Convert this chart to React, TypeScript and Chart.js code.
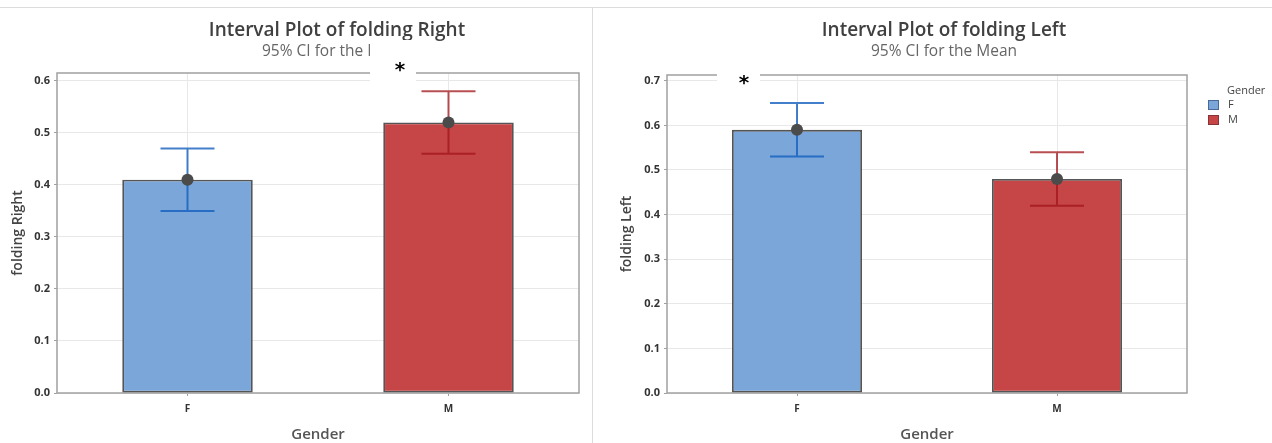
import React, { useEffect, useRef } from "react";
import { Chart, registerables } from "chart.js";

Chart.register(...registerables);

// ---- data ----
const categories = ["F", "M"];
const rightMeans = [0.41, 0.52];
const rightLower = [0.35, 0.46];
const rightUpper = [0.47, 0.58];
const leftMeans = [0.59, 0.48];
const leftLower = [0.53, 0.42];
const leftUpper = [0.65, 0.54];
const barColors = ["#7BA6D9", "#C64546"];
const ciColors = ["rgba(20,95,190,0.8)", "rgba(160,20,25,0.75)"];
const legendTitle = "Gender";

const FONT = '"Open Sans", "Noto Sans", sans-serif';

type Cfg = {
  means: number[];
  lower: number[];
  upper: number[];
  yMax: number;
  yTitle: string;
  yTitlePad: number;
  yWidth: number;
  padding: { left: number; top: number; right: number; bottom: number };
  title: string;
  titleX: number;
  subX: number;
  box: [number, number, number, number];
  star: [number, number];
  legend: null | { x: number; y: number };
};

function buildConfig(c: Cfg): any {
  const errorBars = {
    id: "errorBars",
    afterDatasetDraw(chart: any, args: any) {
      if (args.index !== 0) return;
      const meta = chart.getDatasetMeta(0);
      const ys = chart.scales.y;
      const ctx = chart.ctx;
      ctx.save();
      meta.data.forEach((bar: any, i: number) => {
        const x = bar.x;
        const yl = ys.getPixelForValue(c.lower[i]);
        const yu = ys.getPixelForValue(c.upper[i]);
        ctx.strokeStyle = ciColors[i];
        ctx.lineWidth = 2;
        ctx.beginPath();
        ctx.moveTo(x, yu);
        ctx.lineTo(x, yl);
        ctx.moveTo(x - 27, yu);
        ctx.lineTo(x + 27, yu);
        ctx.moveTo(x - 27, yl);
        ctx.lineTo(x + 27, yl);
        ctx.stroke();
      });
      ctx.restore();
    },
  };
  const frame = {
    id: "frame",
    beforeDatasetsDraw(chart: any) {
      const { left, top, right, bottom } = chart.chartArea;
      const ctx = chart.ctx;
      ctx.save();
      ctx.strokeStyle = "#a0a0a0";
      ctx.lineWidth = 1.5;
      ctx.strokeRect(left, top, right - left, bottom - top);
      ctx.restore();
    },
  };
  const overlay = {
    id: "overlay",
    afterDraw(chart: any) {
      const ctx = chart.ctx;
      ctx.save();
      ctx.textAlign = "center";
      ctx.textBaseline = "middle";
      ctx.fillStyle = "#404040";
      ctx.font = `600 19px ${FONT}`;
      ctx.fillText(c.title, c.titleX, 31);
      ctx.fillStyle = "#666666";
      ctx.font = `15.5px ${FONT}`;
      ctx.fillText("95% CI for the Mean", c.subX, 52);
      ctx.fillStyle = "#ffffff";
      ctx.fillRect(c.box[0], c.box[1], c.box[2], c.box[3]);
      ctx.fillStyle = "#000000";
      ctx.font = `bold 20px "DejaVu Sans", sans-serif`;
      ctx.fillText("*", c.star[0], c.star[1]);
      if (c.legend) {
        const { x, y } = c.legend;
        ctx.textAlign = "left";
        ctx.fillStyle = "#444";
        ctx.font = `11px ${FONT}`;
        ctx.fillText(legendTitle, x + 19, y);
        categories.forEach((cat, i) => {
          const by = y + 9 + i * 15;
          ctx.fillStyle = barColors[i];
          ctx.fillRect(x, by, 11, 10);
          ctx.strokeStyle = i === 0 ? "#4a6a95" : "#8a3333";
          ctx.lineWidth = 1;
          ctx.strokeRect(x + 0.5, by + 0.5, 10, 9);
          ctx.fillStyle = "#444";
          ctx.fillText(cat, x + 20, by + 5);
        });
      }
      ctx.restore();
    },
  };

  return {
    type: "bar",
    data: {
      labels: categories,
      datasets: [
        {
          type: "bar",
          data: c.means,
          backgroundColor: barColors,
          borderColor: "#555555",
          borderWidth: 1.8,
          borderSkipped: false,
          categoryPercentage: 1,
          barPercentage: 0.5,
          order: 2,
        },
        {
          type: "line",
          data: c.means,
          showLine: false,
          pointRadius: 6,
          pointHoverRadius: 6,
          pointBackgroundColor: "#4b4b4b",
          pointBorderWidth: 0,
          order: 1,
        },
      ],
    },
    options: {
      responsive: false,
      animation: false,
      events: [],
      layout: { padding: c.padding },
      plugins: {
        legend: { display: false },
        tooltip: { enabled: false },
        title: { display: false },
      },
      scales: {
        x: {
          type: "category",
          offset: true,
          afterFit(s: any) {
            s.height = 50;
          },
          grid: {
            offset: false,
            color: "#e8e8e8",
            tickColor: "#a0a0a0",
            tickLength: 3,
          },
          border: { display: false },
          ticks: {
            color: "#333",
            font: { family: FONT, size: 10, weight: "bold" },
            padding: 7,
          },
          title: {
            display: true,
            text: "Gender",
            color: "#555",
            font: { family: FONT, size: 15, weight: "600" },
            padding: { top: 0, bottom: -1 },
          },
        },
        y: {
          type: "linear",
          min: 0,
          max: c.yMax,
          afterFit(s: any) {
            s.width = c.yWidth;
          },
          grid: {
            color: "#e8e8e8",
            tickColor: "#a0a0a0",
            tickLength: 3,
          },
          border: { display: false },
          ticks: {
            stepSize: 0.1,
            includeBounds: false,
            color: "#333",
            font: { family: FONT, size: 11, weight: "bold" },
            padding: 4,
            callback: (v: any) => Number(v).toFixed(1),
          },
          title: {
            display: true,
            text: c.yTitle,
            color: "#444",
            font: { family: FONT, size: 14, weight: "600" },
            padding: { top: c.yTitlePad, bottom: 0 },
          },
        },
      },
    },
    plugins: [frame, errorBars, overlay],
  };
}

export default function App() {
  const leftRef = useRef<HTMLCanvasElement>(null);
  const rightRef = useRef<HTMLCanvasElement>(null);

  useEffect(() => {
    document.body.style.margin = "0";
    const c1 = new Chart(
      leftRef.current as HTMLCanvasElement,
      buildConfig({
        means: rightMeans,
        lower: rightLower,
        upper: rightUpper,
        yMax: 0.615,
        yTitle: "folding Right",
        yTitlePad: 10,
        yWidth: 57,
        padding: { left: 0, top: 73, right: 13, bottom: 0 },
        title: "Interval Plot of folding Right",
        titleX: 337,
        subX: 335,
        box: [370, 40, 46, 43],
        star: [400, 71],
        legend: null,
      })
    );
    const c2 = new Chart(
      rightRef.current as HTMLCanvasElement,
      buildConfig({
        means: leftMeans,
        lower: leftLower,
        upper: leftUpper,
        yMax: 0.713,
        yTitle: "folding Left",
        yTitlePad: 26,
        yWidth: 74,
        padding: { left: 0, top: 75, right: 85, bottom: 0 },
        title: "Interval Plot of folding Left",
        titleX: 351,
        subX: 351,
        box: [124, 63, 43, 25],
        star: [151, 84],
        legend: { x: 615, y: 91 },
      })
    );
    return () => {
      c1.destroy();
      c2.destroy();
    };
  }, []);

  return (
    <div style={{ position: "relative", width: 1272, height: 443, background: "#fff", overflow: "hidden" }}>
      <canvas ref={leftRef} width={592} height={443} style={{ position: "absolute", left: 0, top: 0, width: 592, height: 443 }} />
      <canvas ref={rightRef} width={679} height={443} style={{ position: "absolute", left: 593, top: 0, width: 679, height: 443 }} />
      <div style={{ position: "absolute", left: 0, top: 7, width: 1272, height: 1, background: "#dcdcdc" }} />
      <div style={{ position: "absolute", left: 592, top: 7, width: 1, height: 436, background: "#dcdcdc" }} />
    </div>
  );
}
